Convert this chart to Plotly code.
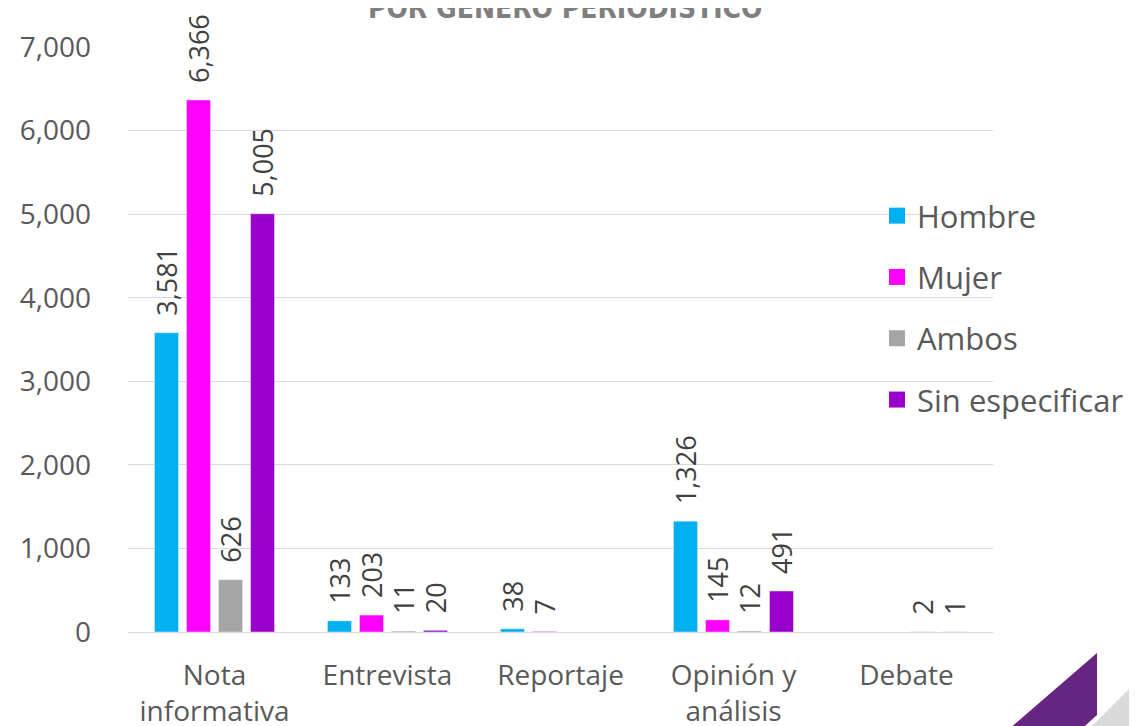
import plotly.graph_objects as go

categories = ["Nota<br>informativa", "Entrevista", "Reportaje", "Opinión y<br>análisis", "Debate"]
hombre = [3581, 133, 38, 1326, None]
mujer = [6366, 203, 7, 145, None]
ambos = [626, 11, None, 12, 2]
sin_especificar = [5005, 20, None, 491, 1]
series_names = ["Hombre", "Mujer", "Ambos", "Sin especificar"]
series_colors = ["#00B0F0", "#FF00FF", "#A5A5A5", "#9900CC"]
y_ticks = [0, 1000, 2000, 3000, 4000, 5000, 6000, 7000]
title_text = "POR GÉNERO PERIODÍSTICO"

W, H = 1137, 726
OFF = 8  # page body margin offset
L, R, T, B = 128 - OFF, 144 + OFF, 47 - OFF, 94 + OFF
pw, ph = W - L - R, H - T - B

def px(x):
    return (x - OFF - L) / pw

def py(y):
    return (H - B - (y - OFF)) / ph

fig = go.Figure()
for name, vals, col in zip(series_names, [hombre, mujer, ambos, sin_especificar], series_colors):
    fig.add_trace(go.Bar(
        x=categories, y=vals, name=name, marker_color=col,
        showlegend=False,
        text=[("\u00a0\u00a0" + f"{v:,}") if v is not None else "" for v in vals],
        textposition="outside", textangle=-90, constraintext="none",
        textfont=dict(size=27, color="#404040", family="Open Sans"),
        cliponaxis=False,
    ))
# legend entries with square markers
for name, col in zip(series_names, series_colors):
    fig.add_trace(go.Scatter(
        x=[None], y=[None], mode="markers", name=name, legendgroup=name,
        marker=dict(symbol="square", size=18, color=col),
    ))

fig.update_layout(
    width=W, height=H,
    margin=dict(l=L, r=R, t=T, b=B, autoexpand=False),
    paper_bgcolor="white", plot_bgcolor="white",
    barmode="group", bargap=0.26, bargroupgap=0.25,
    font=dict(family="Open Sans", color="#595959"),
    showlegend=True,
    legend=dict(
        x=px(877), y=py(189), xanchor="left", yanchor="top",
        font=dict(size=31, color="#595959", family="Open Sans"),
        bgcolor="rgba(0,0,0,0)", tracegroupgap=18,
        traceorder="grouped", itemsizing="trace", itemwidth=30,
    ),
)
fig.update_yaxes(
    range=[0, 7000], tickvals=y_ticks, tickformat=",d", automargin=False,
    showgrid=True, gridcolor="#D9D9D9", gridwidth=1,
    zeroline=True, zerolinecolor="#D9D9D9", zerolinewidth=1,
    showline=False, ticks="", ticklabelstandoff=36,
    tickfont=dict(size=28, color="#595959", family="Open Sans"),
)
fig.update_xaxes(
    showline=True, linecolor="#D9D9D9", linewidth=1, ticks="", automargin=False,
    tickfont=dict(size=28, color="#595959", family="Open Sans"),
    ticklabelstandoff=18,
)

fig.add_annotation(
    text=f"<b>{title_text}</b>", xref="paper", yref="paper",
    x=px(565), y=py(27), xanchor="center", yanchor="bottom",
    showarrow=False,
    font=dict(size=28, color="#7F7F7F", family="DejaVu Sans Condensed, Liberation Sans Narrow, sans-serif"),
)

# decorative corner shapes
fig.add_shape(type="path", xref="paper", yref="paper",
              path=f"M {px(1145)} {py(673)} L {px(1083)} {py(735)} L {px(1145)} {py(735)} Z",
              fillcolor="#D9D9D9", line=dict(width=0), layer="above")
fig.add_shape(type="path", xref="paper", yref="paper",
              path=f"M {px(1097)} {py(653)} L {px(1002)} {py(735)} L {px(1075)} {py(735)} L {px(1097)} {py(715)} Z",
              fillcolor="#662483", line=dict(width=0), layer="above")

fig.write_html("out.html")
